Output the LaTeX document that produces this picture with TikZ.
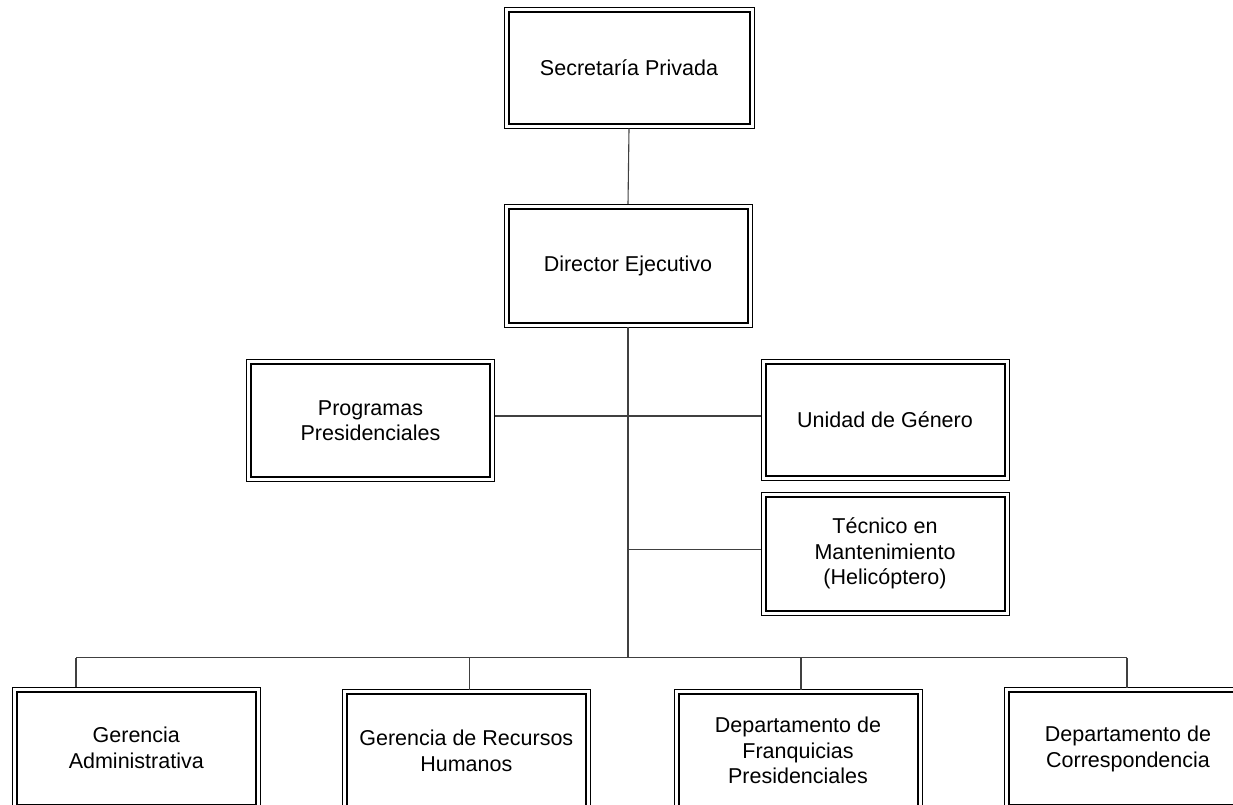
\documentclass[tikz,border=0pt]{standalone}
\usepackage{fontspec}
\setmainfont{Liberation Sans}
\begin{document}
\begin{tikzpicture}[x=1pt,y=-1pt,
  unit/.style={draw=black, line width=1pt, inner sep=0pt, outer sep=0pt,
    minimum width=248pt, minimum height=122pt, align=center,
    font=\fontsize{21.5}{25.5}\selectfont},
  link/.style={draw=black!75, line width=1.1pt}]
\useasboundingbox (0,0) rectangle (1233,805);

% org units (outer frame given by the node itself)
\node[unit, minimum width=250pt, minimum height=121pt] (sec) at (629,68) {Secretaría Privada};
\node[unit, minimum height=123pt] (dir) at (628,265.5) {Director Ejecutivo};
\node[unit] (prog) at (370.5,420.5) {Programas\\Presidenciales};
\node[unit, minimum height=121.5pt] (uni) at (885,420) {Unidad de Género};
\node[unit, minimum height=123pt] (tec) at (885,553.7) {Técnico en\\Mantenimiento\\(Helicóptero)};
\node[unit] (ga) at (136.3,748) {Gerencia\\Administrativa};
\node[unit] (rh) at (466.3,750.7) {Gerencia de Recursos\\Humanos};
\node[unit] (fr) at (798,750.7) {Departamento de\\Franquicias\\Presidenciales};
\node[unit] (co) at (1128,748.7) {Departamento de\\Correspondencia};

% inner, heavier frame of each unit
\foreach \n in {sec,dir,prog,uni,tec,ga,rh,fr,co}
  \draw[line width=2pt] ([shift={(4.5pt,-4.5pt)}]\n.north west)
    rectangle ([shift={(-4.5pt,4.5pt)}]\n.south east);

% trunk and side branches
\coordinate (bus) at (628,657.7);
\coordinate (tecj) at (628,549.3);
\coordinate (d1) at (76,657.7);
\coordinate (d2) at (469.3,657.7);
\coordinate (d3) at (801,657.7);
\coordinate (d4) at (1127,657.7);

\draw[link] (sec.south) -- (dir.north);
\draw[link] (dir.south) -- (bus);
\draw[link] (prog.east |- 0,416) -- (uni.west |- 0,416);
\draw[link] (tecj) -- (tec.west |- tecj);

% bottom bus and drops
\draw[link] (d1) -- (d4);
\draw[link] (d1) -- (d1 |- ga.north);
\draw[link] (d2) -- (d2 |- rh.north);
\draw[link] (d3) -- (d3 |- fr.north);
\draw[link] (d4) -- (d4 |- co.north);
\end{tikzpicture}
\end{document}
